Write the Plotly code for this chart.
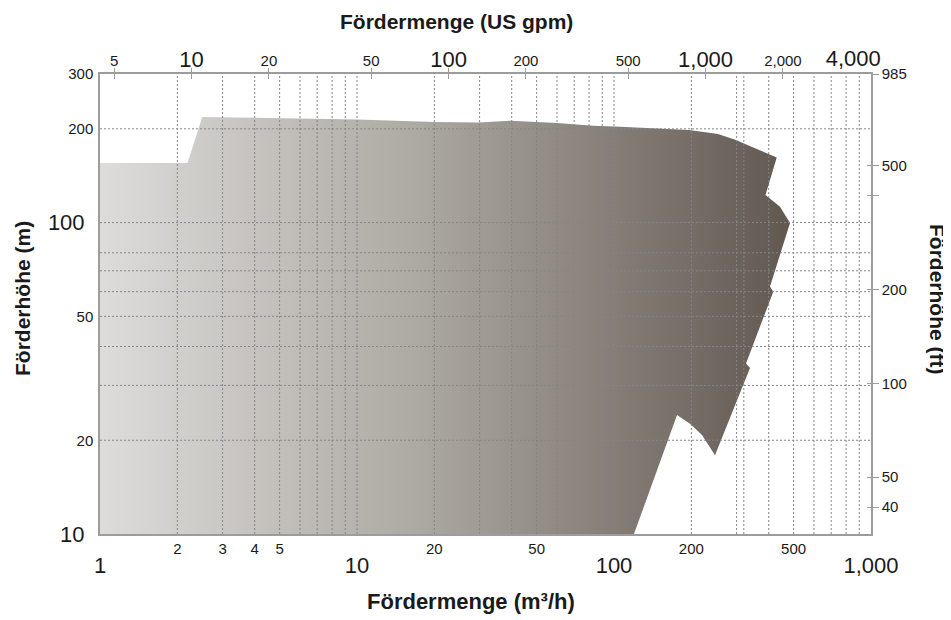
import math
import plotly.graph_objects as go

# ---------------- data ----------------
# Envelope of the pump range: flow (m³/h) and head (m)
flow_m3h = [1, 1, 2.19, 2.5, 10, 20, 29.7, 39.6, 60, 82.9, 105.5, 195.8, 253.9, 298.3,
            344.4, 392.7, 429.7, 388.6, 442.5, 484, 404.6, 416.7, 326.3, 338.2,
            247.2, 220.0, 197.6, 175.9, 119.6]
head_m = [10, 155.4, 155.4, 218.4, 214.2, 210.4, 209.7, 212.5, 208.9, 204.7, 203.2, 198.3,
          192.5, 184.2, 174.9, 166.9, 161.9, 122.6, 112.5, 99.7, 62.3, 60.0, 35.3, 34.1,
          17.9, 20.8, 22.6, 24.1, 10]

# grid lines
grid_flow = [2, 3, 4, 5, 6, 7, 8, 9, 10, 20, 30, 40, 50, 60, 70, 80, 90, 100,
             200, 300, 320, 400, 500, 600, 700, 800, 900]
grid_head = [20, 30, 40, 50, 60, 70, 80, 100, 200]

# axis ranges / conversions
flow_min, flow_max = 1, 1000
head_min, head_max = 10, 300
M3H_TO_GPM = 4.40287
M_TO_FT = 3.28084

# tick labels
bottom_small = [2, 3, 4, 5, 20, 50, 200, 500]
bottom_big = [1, 10, 100, 1000]
bottom_big_text = ["1", "10", "100", "1,000"]
top_small = [5, 20, 50, 200, 500, 2000]
top_small_text = ["5", "20", "50", "200", "500", "2,000"]
top_big = [10, 100, 1000]
top_big_text = ["10", "100", "1,000"]
top_last = [4000]
top_last_text = ["4,000"]
top_tick_marks = [5, 10, 20, 50, 100, 200, 500, 1000, 2000]
left_small = [20, 50, 200, 300]
left_big = [10, 100]
right_ticks = [40, 50, 100, 200, 400, 500, 984.25]
right_text = ["40", "50", "100", "200", "", "500", "985"]

FONT = "Liberation Sans, Arial, Helvetica, sans-serif"
AXIS_COL = "#9c9c9c"
TXT = "#1a1a1a"
SMALL = 15
BIG = 22

fig = go.Figure()

fig.add_trace(go.Scatter(
    x=flow_m3h, y=head_m, mode="lines", fill="toself",
    line=dict(width=0, color="rgba(0,0,0,0)"),
    fillgradient=dict(type="horizontal",
                      colorscale=[[0, "#dddcda"], [0.45, "#aeaaa4"], [1, "#615850"]]),
    hoverinfo="skip", showlegend=False))

gx, gy = [], []
for v in grid_flow:
    gx += [v, v, None]
    gy += [head_min, head_max, None]
for v in grid_head:
    gx += [flow_min, flow_max, None]
    gy += [v, v, None]
fig.add_trace(go.Scatter(x=gx, y=gy, mode="lines",
                         line=dict(color="#858585", width=1, dash="2px,2px"),
                         hoverinfo="skip", showlegend=False))

# dummy traces so that overlay axes exist
for xa, ya in [("x2", "y"), ("x3", "y"), ("x4", "y"), ("x5", "y"), ("x6", "y"),
               ("x7", "y"), ("x", "y2"), ("x", "y3"), ("x", "y4")]:
    fig.add_trace(go.Scatter(x=[None], y=[None], xaxis=xa, yaxis=ya,
                             hoverinfo="skip", showlegend=False))

xr = [math.log10(flow_min), math.log10(flow_max)]
gr = [math.log10(flow_min * M3H_TO_GPM), math.log10(flow_max * M3H_TO_GPM)]
yr = [math.log10(head_min), math.log10(head_max)]
fr = [math.log10(head_min * M_TO_FT), math.log10(head_max * M_TO_FT)]

base = dict(type="log", showgrid=False, zeroline=False, fixedrange=True)
clear = "rgba(0,0,0,0)"

# the page body has an 8px margin, so the figure is shrunk by 8px
fig.update_layout(
    width=943, height=612,
    margin=dict(l=92, r=80, t=66, b=86),
    paper_bgcolor="white", plot_bgcolor="white",
    font=dict(family=FONT, color=TXT),
    showlegend=False,
    xaxis=dict(**base, range=xr, anchor="y", side="bottom",
               showline=True, linecolor=AXIS_COL, linewidth=1.5,
               tickmode="array", tickvals=bottom_small,
               ticktext=[str(v) for v in bottom_small],
               tickfont=dict(size=SMALL, family=FONT, color=TXT),
               ticks=""),
    xaxis3=dict(**base, range=xr, overlaying="x", anchor="y", side="bottom",
                showline=False, tickmode="array", tickvals=bottom_big,
                ticktext=bottom_big_text,
                tickfont=dict(size=BIG, family=FONT, color=TXT),
                ticks="outside", ticklen=12, tickcolor=clear),
    xaxis2=dict(**base, range=gr, overlaying="x", anchor="y", side="top",
                showline=True, linecolor=AXIS_COL, linewidth=1.5,
                tickmode="array", tickvals=top_small, ticktext=top_small_text,
                tickfont=dict(size=SMALL, family=FONT, color=TXT),
                ticks=""),
    xaxis4=dict(**base, range=gr, overlaying="x", anchor="y", side="top",
                showline=False, tickmode="array", tickvals=top_big,
                ticktext=top_big_text,
                tickfont=dict(size=BIG, family=FONT, color=TXT),
                ticks="", ticklabelstandoff=2),
    xaxis5=dict(**base, range=gr, overlaying="x", anchor="y", side="top",
                showline=False, tickmode="array", tickvals=top_last,
                ticktext=top_last_text,
                tickfont=dict(size=BIG, family=FONT, color=TXT),
                ticks="", ticklabelstandoff=3, ticklabelshift=-7),
    xaxis6=dict(**base, range=gr, overlaying="x", anchor="y", side="top",
                showline=False, tickmode="array",
                tickvals=top_tick_marks, showticklabels=False,
                ticks="inside", ticklen=5, tickwidth=1.2, tickcolor=AXIS_COL),
    xaxis7=dict(**base, range=gr, overlaying="x", anchor="y", side="top",
                showline=False, tickmode="array",
                tickvals=top_tick_marks, showticklabels=False,
                ticks="outside", ticklen=5, tickwidth=1.2, tickcolor=AXIS_COL),
    yaxis=dict(**base, range=yr, anchor="x", side="left",
               showline=True, linecolor=AXIS_COL, linewidth=1.5,
               tickmode="array", tickvals=left_small,
               ticktext=[str(v) for v in left_small],
               tickfont=dict(size=SMALL, family=FONT, color=TXT),
               ticks="outside", ticklen=2, tickcolor=clear),
    yaxis3=dict(**base, range=yr, overlaying="y", anchor="x", side="left",
                showline=False, tickmode="array", tickvals=left_big,
                ticktext=[str(v) for v in left_big],
                tickfont=dict(size=BIG, family=FONT, color=TXT),
                ticks="outside", ticklen=10, tickcolor=clear),
    yaxis2=dict(**base, range=fr, overlaying="y", anchor="x", side="right",
                showline=True, linecolor=AXIS_COL, linewidth=1.5,
                tickmode="array", tickvals=right_ticks, ticktext=right_text,
                tickfont=dict(size=SMALL, family=FONT, color=TXT),
                ticks="outside", ticklen=6, tickwidth=1.2, tickcolor=AXIS_COL),
    yaxis4=dict(**base, range=fr, overlaying="y", anchor="x", side="right",
                showline=False, tickmode="array", tickvals=right_ticks,
                showticklabels=False,
                ticks="inside", ticklen=4, tickwidth=1.2, tickcolor=AXIS_COL),
)

# reference pixel layout of the plot area (window coordinates)
PLOT_L, PLOT_R, PLOT_T, PLOT_B = 100, 871, 74, 534


def px(xp):
    return (xp - PLOT_L) / (PLOT_R - PLOT_L)


def py(yp):
    return (PLOT_B - yp) / (PLOT_B - PLOT_T)


title_font = dict(family=FONT, size=21, color="#1a1a1a")
fig.add_annotation(text="<b>Fördermenge (m³/h)</b>", xref="paper", yref="paper",
                   x=px(471), y=py(601), showarrow=False,
                   font=dict(family=FONT, size=22, color="#1a1a1a"),
                   xanchor="center", yanchor="middle")
fig.add_annotation(text="<b>Fördermenge (US gpm)</b>", xref="paper", yref="paper",
                   x=px(456), y=py(22), showarrow=False, font=title_font,
                   xanchor="center", yanchor="middle", borderpad=0)
fig.add_annotation(text="<b>Förderhöhe (m)</b>", xref="paper", yref="paper",
                   x=px(22), y=py(299), showarrow=False, font=title_font,
                   textangle=-90, xanchor="center", yanchor="middle")
fig.add_annotation(text="<b>Förderhöhe (ft)</b>", xref="paper", yref="paper",
                   x=px(938), y=py(299), showarrow=False, font=title_font,
                   textangle=90, xanchor="center", yanchor="middle")

fig.write_html("out.html")
